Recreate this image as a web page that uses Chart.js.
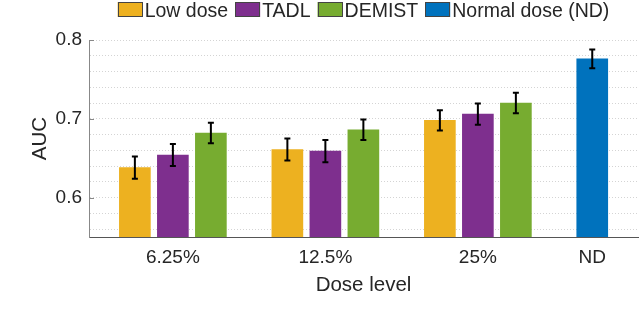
<!DOCTYPE html>
<html>
<head>
<meta charset="utf-8">
<script src="https://cdn.jsdelivr.net/npm/chart.js@4.4.1/dist/chart.umd.min.js"></script>
<style>
  html, body { margin: 0; padding: 0; background: #fff; }
</style>
</head>
<body>
<canvas id="aucChart" width="640" height="319"></canvas>
<script>
// dose levels (ND sits closer to 25% than the other groups)
const doseLabels = ['6.25%', '12.5%', '25%', 'ND']
const doseX = [1, 2, 3, 3.75]

const lowDose = [0.638, 0.661, 0.698, null]
const lowDoseErr = [0.014, 0.014, 0.013, null]
const tadl = [0.654, 0.659, 0.706, null]
const tadlErr = [0.014, 0.014, 0.0135, null]
const demist = [0.682, 0.686, 0.720, null]
const demistErr = [0.013, 0.013, 0.013, null]
const normalDose = [null, null, null, 0.776]
const normalDoseErr = [null, null, null, 0.012]

const yMajorTicks = [0.6, 0.7, 0.8]
const yMin = 0.55
const yMax = 0.8

const FONT = '"Liberation Sans", Arial, Helvetica, sans-serif'
const TEXT = '#262626'

const pts = vals => vals.map((v, i) => ({ x: doseX[i], y: v }))

// error bars drawn from the same data through the y scale
const errorBars = {
  id: 'errorBars',
  afterDatasetsDraw(chart) {
    const { ctx, chartArea, scales: { y } } = chart
    ctx.save()
    ctx.strokeStyle = '#000'
    ctx.lineWidth = 2
    chart.data.datasets.forEach((ds, di) => {
      const meta = chart.getDatasetMeta(di)
      meta.data.forEach((bar, i) => {
        const v = ds.data[i].y
        const e = ds.errors[i]
        if (v == null || e == null) return
        const top = y.getPixelForValue(v + e)
        const bot = y.getPixelForValue(v - e)
        ctx.beginPath()
        ctx.moveTo(bar.x, top); ctx.lineTo(bar.x, bot)
        ctx.moveTo(bar.x - 3, top); ctx.lineTo(bar.x + 3, top)
        ctx.moveTo(bar.x - 3, bot); ctx.lineTo(bar.x + 3, bot)
        ctx.stroke()
      })
    })
    // small inward ticks on the y axis, matlab style
    ctx.strokeStyle = '#888'
    ctx.lineWidth = 1
    yMajorTicks.forEach(t => {
      const py = Math.round(y.getPixelForValue(t)) + 0.5
      ctx.beginPath()
      ctx.moveTo(chartArea.left, py)
      ctx.lineTo(chartArea.left + 5, py)
      ctx.stroke()
    })
    ctx.restore()
  }
}

// legend across the top: box, label, box, label...
const topLegend = {
  id: 'topLegend',
  afterDraw(chart) {
    const { ctx, chartArea } = chart
    ctx.save()
    ctx.font = `19.5px ${FONT}`
    const boxW = 25, boxH = 15, gap = 2, itemGap = 7
    const items = chart.data.datasets.map(ds => ({
      label: ds.label,
      color: ds.backgroundColor,
      w: ctx.measureText(ds.label).width
    }))
    const total = items.reduce((s, it) => s + boxW + gap + it.w, 0) + itemGap * (items.length - 1)
    let x = (chartArea.left + chartArea.right) / 2 - total / 2
    ctx.textBaseline = 'alphabetic'
    items.forEach(it => {
      ctx.fillStyle = it.color
      ctx.fillRect(x, 2, boxW, boxH)
      ctx.strokeStyle = '#444'
      ctx.lineWidth = 1
      ctx.strokeRect(Math.round(x) + 0.5, 2.5, boxW - 1, boxH - 1)
      ctx.fillStyle = TEXT
      ctx.fillText(it.label, x + boxW + gap, 17)
      x += boxW + gap + it.w + itemGap
    })
    ctx.restore()
  }
}

const ctx = document.getElementById('aucChart').getContext('2d')
new Chart(ctx, {
  type: 'bar',
  data: {
    datasets: [
      { label: 'Low dose', data: pts(lowDose), errors: lowDoseErr, backgroundColor: '#EDB120' },
      { label: 'TADL', data: pts(tadl), errors: tadlErr, backgroundColor: '#7E2F8E' },
      { label: 'DEMIST', data: pts(demist), errors: demistErr, backgroundColor: '#77AC30' },
      { label: 'Normal dose (ND)', data: pts(normalDose), errors: normalDoseErr, backgroundColor: '#0072BD' }
    ]
  },
  options: {
    responsive: false,
    animation: false,
    layout: { padding: { top: 40, right: 2, bottom: 0, left: 0 } },
    datasets: { bar: { skipNull: true, barThickness: 38, maxBarThickness: 31, borderWidth: 0 } },
    plugins: { legend: { display: false }, tooltip: { enabled: false } },
    scales: {
      x: {
        type: 'linear',
        min: 0.45,
        max: 4.05,
        offset: false,
        afterBuildTicks: s => { s.ticks = doseX.map(v => ({ value: v })) },
        afterFit: s => { s.height = 82 },
        grid: { display: false, offset: false },
        border: { color: '#555' },
        ticks: {
          autoSkip: false,
          maxRotation: 0,
          padding: 1,
          color: TEXT,
          font: { family: FONT, size: 19 },
          callback: v => doseLabels[doseX.indexOf(v)]
        },
        title: {
          display: true,
          text: 'Dose level',
          color: TEXT,
          font: { family: FONT, size: 20.5 },
          padding: { top: 0, bottom: 21 }
        }
      },
      y: {
        min: yMin,
        max: yMax,
        afterBuildTicks: s => {
          const t = []
          for (let k = 28; k <= 40; k++) t.push({ value: k / 50 })
          s.ticks = t
        },
        afterFit: s => { s.width = 89 },
        grid: { color: '#d4d4d4', drawTicks: false },
        border: { color: '#888', dash: [1, 2] },
        ticks: {
          autoSkip: false,
          padding: 7,
          color: TEXT,
          font: { family: FONT, size: 19 },
          callback: v => yMajorTicks.some(m => Math.abs(m - v) < 1e-6) ? v.toFixed(1) : ''
        },
        title: {
          display: true,
          text: 'AUC',
          color: TEXT,
          font: { family: FONT, size: 20.5 },
          padding: { top: 28, bottom: 0 }
        }
      }
    }
  },
  plugins: [errorBars, topLegend]
})
</script>
</body>
</html>
